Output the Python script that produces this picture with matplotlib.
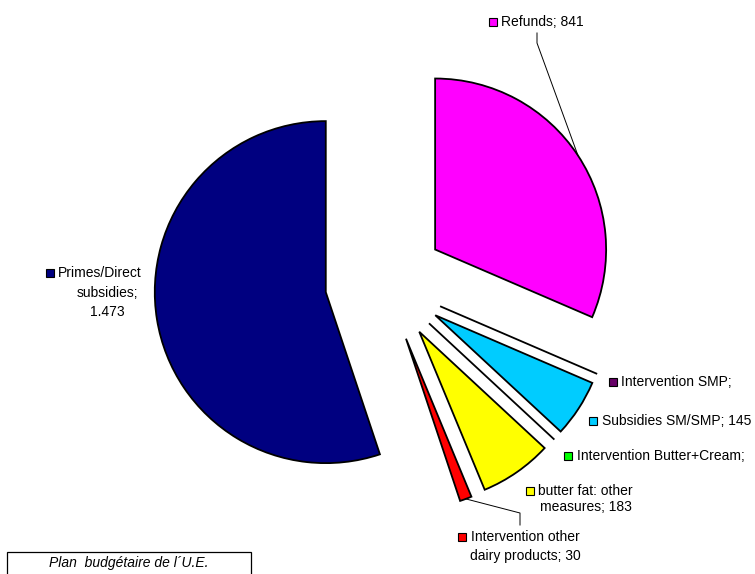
import matplotlib.pyplot as plt
import numpy as np
from matplotlib.patches import Rectangle

plt.rcParams['font.family'] = ['Liberation Sans', 'DejaVu Sans']

# data
names = ['Refunds', 'Intervention SMP', 'Subsidies SM/SMP', 'Intervention Butter+Cream',
         'butter fat: other measures', 'Intervention other dairy products',
         'Primes/Direct subsidies']
values = [841, 0, 145, 0, 183, 30, 1473]
value_text = ['841', '', '145', '', '183', '30', '1.473']
colors = ['#FF00FF', '#660066', '#00CCFF', '#00FF00', '#FFFF00', '#FF0000', '#000080']

W, H = 755, 574
fig = plt.figure(figsize=(W / 100, H / 100), dpi=100)
ax = fig.add_axes([0, 0, 1, 1])

wedges, _ = ax.pie(values, colors=colors, startangle=90, counterclock=False,
                   explode=[60] * len(values), radius=171, center=(385, H - 282.5),
                   frame=False, wedgeprops=dict(edgecolor='black', linewidth=1.3))
ax.set_xlim(0, W)
ax.set_ylim(0, H)
ax.axis('off')


def key(x, y, c):
    ax.plot([x], [H - y], marker='s', ms=5.8, mfc=c, mec='black', mew=0.8, zorder=5)


def txt(x, y, s, ha='left'):
    ax.text(x, H - y, s, fontsize=10, ha=ha, va='center', color='black')


def anchor(w):
    t = np.deg2rad((w.theta1 + w.theta2) / 2)
    return w.center[0] + w.r * np.cos(t), w.center[1] + w.r * np.sin(t)


labels = [f'{n}; {v}' if v else f'{n};' for n, v in zip(names, value_text)]

# Refunds
key(492.5, 21.7, colors[0])
txt(501, 21.7, labels[0])
px, py = anchor(wedges[0])
ax.plot([px, 537, 537], [py, H - 43, H - 33], color='black', lw=0.7)

# Intervention SMP
key(612.5, 381.7, colors[1])
txt(621, 381.7, labels[1])

# Subsidies SM/SMP
key(593, 420.7, colors[2])
txt(602, 420.7, labels[2])

# Intervention Butter+Cream
key(568, 456, colors[3])
txt(577, 456, labels[3])

# butter fat: other measures
key(530, 490.7, colors[4])
txt(538, 490.7, 'butter fat: other')
txt(586, 507.3, 'measures; ' + value_text[4], ha='center')

# Intervention other dairy products
key(462, 537.3, colors[5])
txt(471, 537.3, 'Intervention other')
txt(525.5, 556, 'dairy products; ' + value_text[5], ha='center')
px, py = anchor(wedges[5])
ax.plot([px, 520, 520], [py, H - 513, H - 525], color='black', lw=0.7)

# Primes/Direct subsidies
key(50, 273, colors[6])
txt(58, 273, 'Primes/Direct')
txt(107, 293, 'subsidies;', ha='center')
txt(107, 312, value_text[6], ha='center')

# source box
ax.add_patch(Rectangle((7, H - 590), 244, 38, fill=False, edgecolor='black', lw=0.9))
ax.text(129, H - 563, 'Plan  budgétaire de l\u00b4U.E.', fontsize=10, style='italic',
        ha='center', va='center')

fig.savefig('out.png', dpi=100)
